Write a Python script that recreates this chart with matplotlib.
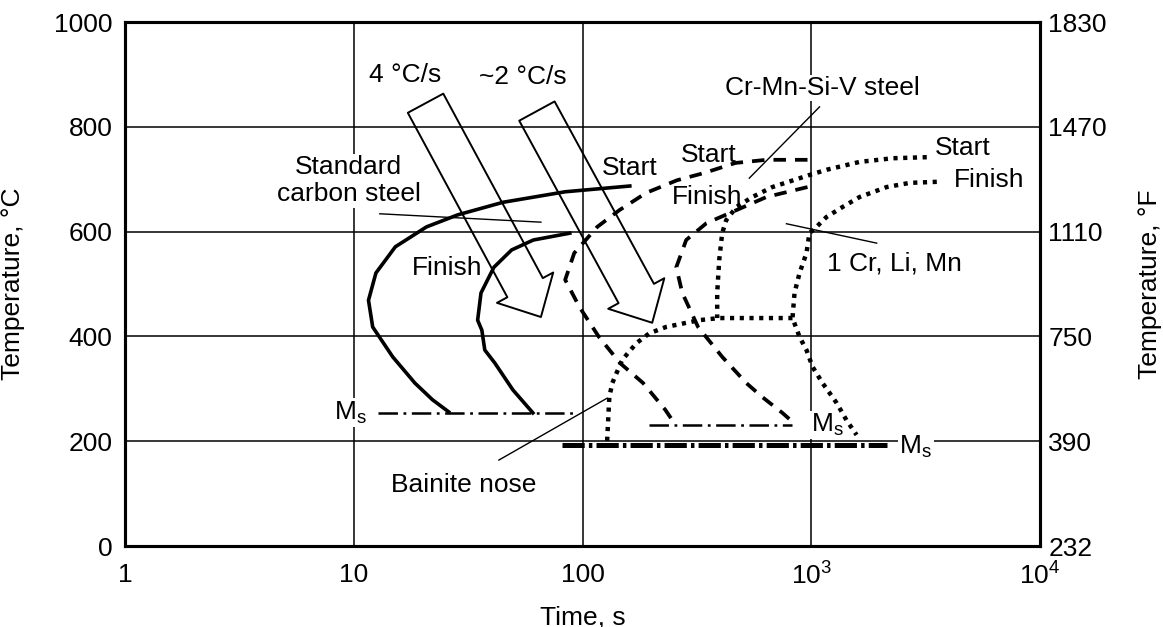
import matplotlib
matplotlib.use("Agg")
import matplotlib.pyplot as plt
from matplotlib.patches import FancyArrowPatch

plt.rcParams['font.family'] = ['Liberation Sans', 'DejaVu Sans']
plt.rcParams['font.size'] = 19
plt.rcParams['mathtext.fontset'] = 'custom'
plt.rcParams['mathtext.rm'] = 'Liberation Sans'
plt.rcParams['lines.scale_dashes'] = False

# axes
time_ticks = [1, 10, 100, 1000, 10000]
time_labels = ['1', '10', '100', r'$\mathregular{10^3}$', r'$\mathregular{10^4}$']
temp_ticks = [0, 200, 400, 600, 800, 1000]
temp_f_labels = ['232', '390', '750', '1110', '1470', '1830']

# standard carbon steel (solid)
std_start_t = [161, 84, 45, 28.5, 20.8, 15.2, 12.5, 11.6, 12.1, 14.8, 18.5, 22.1, 26]
std_start_T = [687, 676, 656, 632, 609, 571, 521, 469, 418, 361, 311, 279, 256]
std_finish_t = [88, 61, 49, 41, 36, 34.8, 36.3, 37.4, 41.4, 49.6, 60.7]
std_finish_T = [597, 584, 565, 532, 483, 431, 412, 374, 349, 298, 254]
std_ms_t = [12.8, 95]
std_ms_T = 254

# Cr-Mn-Si-V steel (dashed)
crv_start_t = [963, 637, 466, 341, 259, 190, 145, 116, 92, 84, 97, 118, 146, 184, 230, 247]
crv_start_T = [737, 737, 731, 712, 698, 674, 641, 609, 559, 508, 456, 399, 349, 311, 260, 240]
crv_finish_t = [963, 637, 471, 348, 284, 257, 273, 320, 408, 520, 612, 748, 828]
crv_finish_T = [685, 666, 641, 616, 584, 532, 483, 418, 361, 311, 284, 254, 237]
crv_ms_t = [196, 828]
crv_ms_T = 231

# 1 Cr, Li, Mn steel (dotted)
cr_start_t = [3199, 2270, 1627, 1167, 982, 676, 553, 471, 425, 408, 396, 388, 388]
cr_start_T = [742, 740, 733, 718, 708, 685, 666, 647, 622, 597, 546, 483, 435]
cr_finish_t = [3539, 2693, 2137, 1627, 1371, 1167, 1054, 982, 953, 889, 845, 828,
               889, 953, 1013, 1120, 1291, 1426, 1578]
cr_finish_T = [695, 693, 685, 666, 647, 628, 609, 597, 559, 521, 483, 435,
               399, 374, 342, 311, 273, 240, 212]
bainite_t = [828, 396, 324, 232, 196, 172, 149, 135, 131, 128]
bainite_T = [435, 435, 431, 418, 406, 387, 355, 311, 284, 197]
cr_ms_t = [81, 2136]
cr_ms_T = 193

# cooling rate arrows: (tail, tip)
arrow_4 = ((20.6, 845), (65.8, 437))
arrow_2 = ((63.2, 830), (201.7, 426))

fig = plt.figure(figsize=(11.63, 6.27), dpi=100)
ax = fig.add_axes([125 / 1163, 81 / 627, 915 / 1163, 524 / 627])
ax.set_xscale('log')
ax.set_xlim(1, 10000)
ax.set_ylim(0, 1000)
ax.set_xticks(time_ticks)
ax.set_xticklabels(time_labels)
ax.minorticks_off()
ax.set_yticks(temp_ticks)
ax.tick_params(length=0, pad=9)
ax.tick_params(axis='x', pad=12)
ax.grid(True, color='black', lw=1.1, zorder=0)
ax.set_axisbelow(True)
for s in ax.spines.values():
    s.set_linewidth(2.2)
ax.set_xlabel('Time, s')
ax.xaxis.set_label_coords(0.5, -0.113)
ax.set_ylabel('Temperature, °C')
ax.yaxis.set_label_coords(-0.109, 0.5)

ax2 = ax.twinx()
ax2.set_ylim(0, 1000)
ax2.set_yticks(temp_ticks)
ax2.set_yticklabels(temp_f_labels)
ax2.tick_params(length=0, pad=6)
ax2.set_ylabel('Temperature, °F')
ax2.yaxis.set_label_coords(1.107, 0.5)
for s in ax2.spines.values():
    s.set_linewidth(2.2)

# curves
ax.plot(std_start_t, std_start_T, color='black', lw=2.6, zorder=4)
ax.plot(std_finish_t, std_finish_T, color='black', lw=2.6, zorder=4)
dash = dict(color='black', lw=2.7, ls=(0, (9, 6.5)), zorder=4)
ax.plot(crv_start_t, crv_start_T, **dash)
ax.plot(crv_finish_t, crv_finish_T, **dash)
dot = dict(color='black', lw=3.2, ls=(0, (3, 4)), zorder=4)
ax.plot(cr_start_t, cr_start_T, **dot)
ax.plot(cr_finish_t, cr_finish_T, **dot)
ax.plot(bainite_t, bainite_T, **dot)

dashdot = dict(color='black', lw=1.8, ls=(0, (14, 4, 2, 4)), zorder=4)
ax.plot(std_ms_t, [std_ms_T] * 2, **dashdot)
ax.plot(crv_ms_t, [crv_ms_T] * 2, **dashdot)
ax.plot(cr_ms_t, [cr_ms_T] * 2, color='black', lw=3.6, ls=(0, (16, 3, 2.5, 3)), zorder=4)

# hollow arrows
for tail, tip in (arrow_4, arrow_2):
    ax.add_patch(FancyArrowPatch(tail, tip, mutation_scale=1,
                                 arrowstyle='simple,head_length=24,head_width=46,tail_width=29',
                                 fc='none', ec='black', lw=1.4, shrinkA=0, shrinkB=0, zorder=5))

# labels
wb = dict(facecolor='white', edgecolor='none', pad=1)
ax.text(16.7, 899, '4 °C/s', ha='center', va='center')
ax.text(54.9, 895, '~2 °C/s', ha='center', va='center')
ax.text(9.5, 697, 'Standard\ncarbon steel', ha='center', va='center',
        linespacing=1.15, bbox=wb, zorder=3)
ax.text(25.5, 531, 'Finish', ha='center', va='center')
ax.text(161, 721, 'Start', ha='center', va='center')
ax.text(358, 746, 'Start', ha='center', va='center')
ax.text(351, 666, 'Finish', ha='center', va='center')
ax.text(1120, 874, 'Cr-Mn-Si-V steel', ha='center', va='center', bbox=wb, zorder=3)
ax.text(4600, 760, 'Start', ha='center', va='center')
ax.text(5980, 698, 'Finish', ha='center', va='center')
ax.text(2316, 540, '1 Cr, Li, Mn', ha='center', va='center')
ax.text(30.3, 116, 'Bainite nose', ha='center', va='center')
ax.text(9.7, 254, r'$\mathregular{M_s}$', ha='center', va='center', bbox=wb, zorder=3)
ax.text(1178, 231, r'$\mathregular{M_s}$', ha='center', va='center', bbox=wb, zorder=3)
ax.text(2864, 190, r'$\mathregular{M_s}$', ha='center', va='center', bbox=wb, zorder=3)

# leader lines
leader = dict(color='black', lw=1.0, zorder=4)
ax.plot([13.0, 65.8], [634, 618], **leader)
ax.plot([1087, 536], [838, 702], **leader)
ax.plot([779, 1932], [615, 578], **leader)
ax.plot([43.1, 128], [164, 282], **leader)

fig.savefig('out.png', dpi=100)
